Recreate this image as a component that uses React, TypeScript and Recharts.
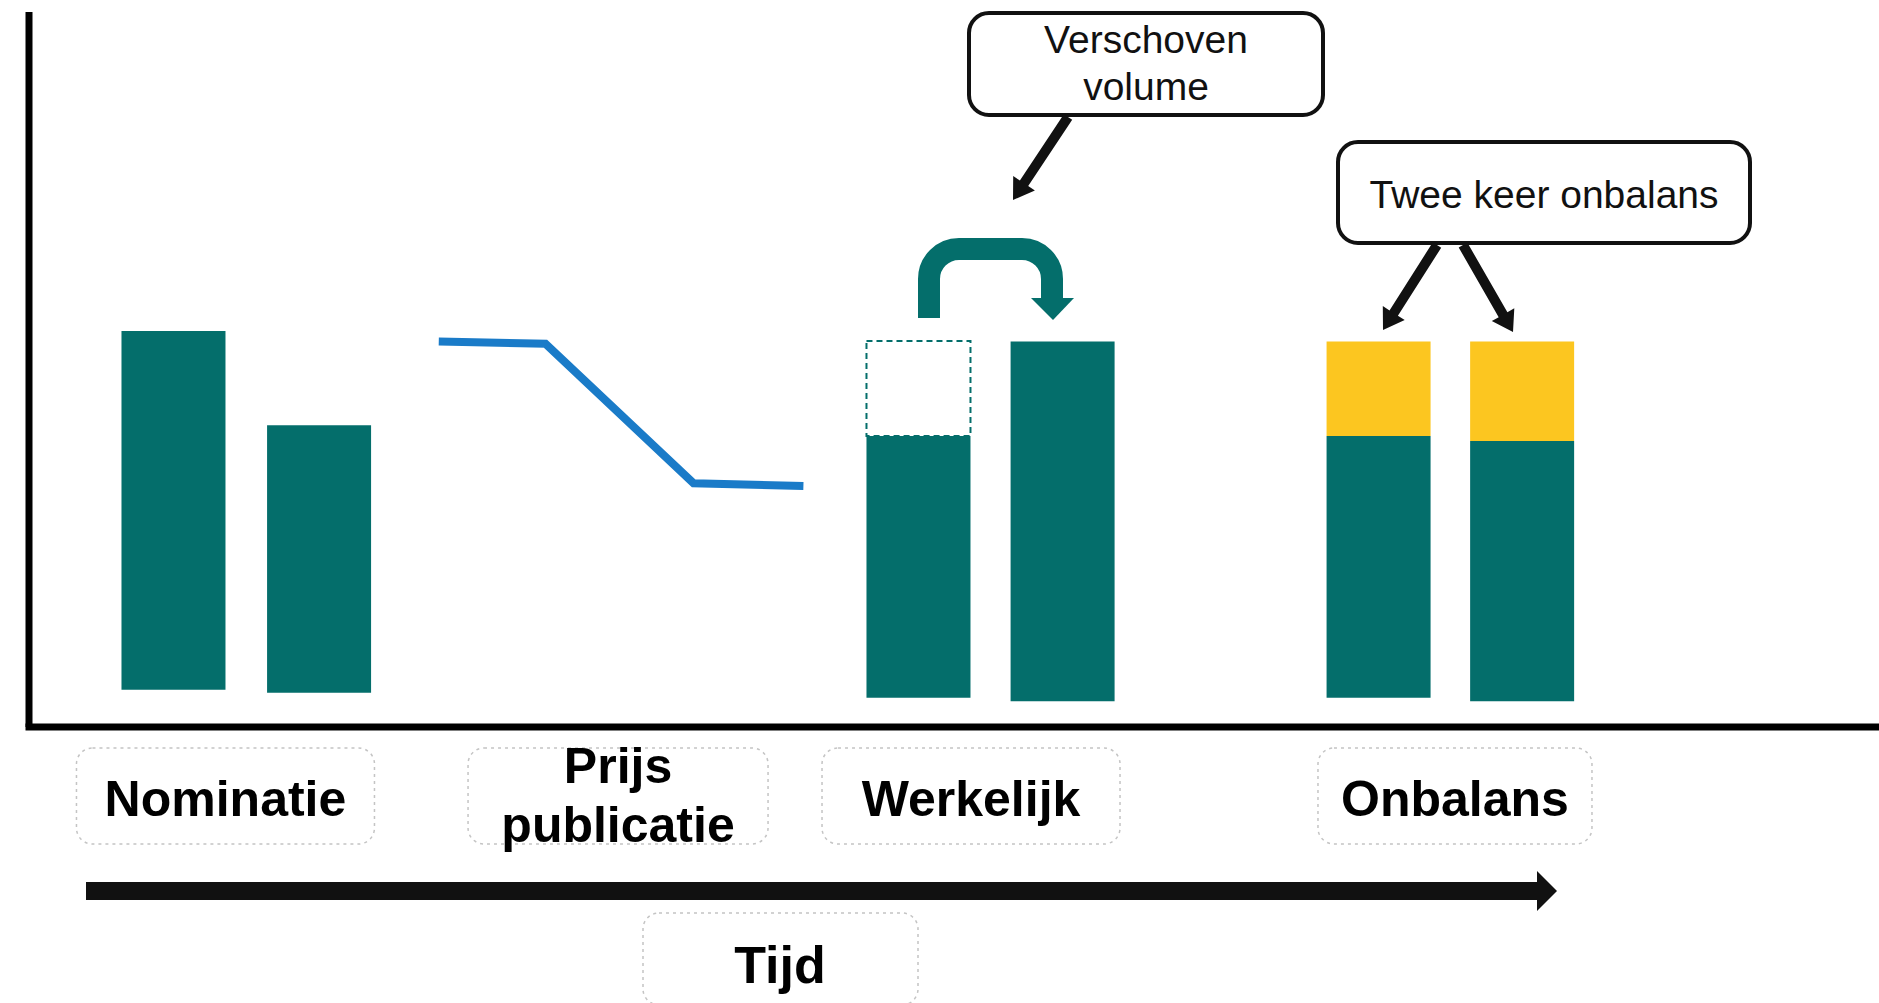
import { ComposedChart, Bar, Line, XAxis, YAxis, Customized } from 'recharts';

// positions on the time axis (0-100) and volumes (0-100)
const barTimes = [7.83, 15.7, 48.1, 55.89, 72.97, 80.73];
const barStart = [5.2, 4.8, 4.1, 3.6, 4.1, 3.6];
const volumeTop = [55.4, 42.2, 40.7, 53.9, 40.7, 40.0];
const shiftedVolume = [0, 0, 13.3, 0, 0, 0];
const imbalanceVolume = [0, 0, 0, 0, 13.2, 13.9];

const priceTimes = [22.15, 27.92, 35.92, 41.86];
const prices = [53.9, 53.6, 34.1, 33.7];

const labelTicks = [10.62, 31.84, 50.92, 77.08];
const labelLines = [['Nominatie'], ['Prijs', 'publicatie'], ['Werkelijk'], ['Onbalans']];

const rows = [
  ...barTimes.map((t, i) => ({
    t,
    base: barStart[i],
    volume: volumeTop[i] - barStart[i],
    shifted: shiftedVolume[i],
    imbalance: imbalanceVolume[i],
  })),
  ...priceTimes.map((t, i) => ({ t, price: prices[i] })),
].sort((a, b) => a.t - b.t);

const TEAL = '#046e6b';
const YELLOW = '#fcc620';
const BLUE = '#1a7bc8';
const INK = '#111';
const FONT = '"Liberation Sans", Arial, sans-serif';

const boxWidths = [298, 300, 298, 274];

const LabelTick = (props: any) => {
  const { x, y, payload } = props;
  const i = labelTicks.indexOf(payload.value);
  const lines = labelLines[i] || [];
  const w = boxWidths[i] || 298;
  return (
    <g>
      <rect
        x={x - w / 2}
        y={y + 21}
        width={w}
        height={96}
        rx={16}
        fill="#fff"
        stroke="#c4c4c4"
        strokeWidth={1.5}
        strokeDasharray="3 4"
      />
      {lines.length === 1 ? (
        <text x={x} y={y + 89} textAnchor="middle" fontFamily={FONT} fontWeight="bold" fontSize={50} fill="#000">
          {lines[0]}
        </text>
      ) : (
        lines.map((l, k) => (
          <text key={k} x={x} y={y + 56 + k * 59} textAnchor="middle" fontFamily={FONT} fontWeight="bold" fontSize={50} fill="#000">
            {l}
          </text>
        ))
      )}
    </g>
  );
};

function arrowPath(x1: number, y1: number, x2: number, y2: number, w: number, hl: number, hw: number) {
  const dx = x2 - x1;
  const dy = y2 - y1;
  const len = Math.hypot(dx, dy);
  const ux = dx / len;
  const uy = dy / len;
  const px = -uy;
  const py = ux;
  const bx = x2 - ux * hl;
  const by = y2 - uy * hl;
  const pts = [
    [x1 + (px * w) / 2, y1 + (py * w) / 2],
    [bx + (px * w) / 2, by + (py * w) / 2],
    [bx + (px * hw) / 2, by + (py * hw) / 2],
    [x2, y2],
    [bx - (px * hw) / 2, by - (py * hw) / 2],
    [bx - (px * w) / 2, by - (py * w) / 2],
    [x1 - (px * w) / 2, y1 - (py * w) / 2],
  ];
  return 'M' + pts.map((p) => p[0].toFixed(1) + ',' + p[1].toFixed(1)).join('L') + 'Z';
}

const Annotations = () => (
  <g>
    {/* shifted volume callout */}
    <rect x={969} y={13} width={354} height={102} rx={20} fill="#fff" stroke={INK} strokeWidth={4} />
    <text x={1146} y={53} textAnchor="middle" fontFamily={FONT} fontSize={39} fill={INK}>Verschoven</text>
    <text x={1146} y={100} textAnchor="middle" fontFamily={FONT} fontSize={39} fill={INK}>volume</text>
    <path d={arrowPath(1068, 117, 1013, 200, 10, 20, 26)} fill={INK} />

    {/* curved teal arrow */}
    <path
      d="M929,318 L929,279 A30,30 0 0 1 959,249 L1022,249 A30,30 0 0 1 1052,279 L1052,300"
      fill="none"
      stroke={TEAL}
      strokeWidth={22}
    />
    <path d="M1031,298 L1074,298 L1053,320 Z" fill={TEAL} />

    {/* imbalance callout */}
    <rect x={1338} y={142} width={412} height={101} rx={20} fill="#fff" stroke={INK} strokeWidth={4} />
    <text x={1544} y={208} textAnchor="middle" fontFamily={FONT} fontSize={39} fill={INK}>Twee keer onbalans</text>
    <path d={arrowPath(1437, 245, 1383, 330, 10, 20, 26)} fill={INK} />
    <path d={arrowPath(1463, 245, 1513, 332, 10, 20, 26)} fill={INK} />

    {/* time arrow */}
    <path d={arrowPath(86, 891, 1557, 891, 18, 20, 40)} fill={INK} />
    <rect x={643} y={913} width={275} height={92} rx={16} fill="#fff" stroke="#c4c4c4" strokeWidth={1.5} strokeDasharray="3 4" />
    <text x={780} y={983} textAnchor="middle" fontFamily={FONT} fontWeight="bold" fontSize={52} fill="#000">Tijd</text>
  </g>
);

const App = () => {
  return (
    <div style={{ position: 'absolute', left: 0, top: 0, width: 1879, height: 1003, background: '#fff' }}>
      <ComposedChart width={1879} height={1003} data={rows} margin={{ top: 12, right: 0, left: 0, bottom: 0 }}>
        <XAxis
          dataKey="t"
          type="number"
          domain={[0, 100]}
          allowDataOverflow
          ticks={labelTicks}
          interval={0}
          height={276}
          tickSize={0}
          tickMargin={0}
          tickLine={false}
          axisLine={{ stroke: '#000', strokeWidth: 7, strokeLinecap: 'square' }}
          tick={LabelTick}
        />
        <YAxis
          type="number"
          domain={[0, 100]}
          allowDataOverflow
          width={29}
          tick={false}
          tickLine={false}
          axisLine={{ stroke: '#000', strokeWidth: 7 }}
        />
        <Bar dataKey="base" stackId="s" barSize={104} fill="transparent" isAnimationActive={false} />
        <Bar dataKey="volume" stackId="s" barSize={104} fill={TEAL} isAnimationActive={false} />
        <Bar
          dataKey="shifted"
          stackId="s"
          barSize={104}
          fill="#fff"
          stroke={TEAL}
          strokeWidth={2}
          strokeDasharray="6 4"
          isAnimationActive={false}
        />
        <Bar dataKey="imbalance" stackId="s" barSize={104} fill={YELLOW} isAnimationActive={false} />
        <Line
          dataKey="price"
          type="linear"
          stroke={BLUE}
          strokeWidth={8}
          dot={false}
          activeDot={false}
          connectNulls={false}
          isAnimationActive={false}
        />
        <Customized component={<Annotations />} />
      </ComposedChart>
    </div>
  );
};

export default App;
